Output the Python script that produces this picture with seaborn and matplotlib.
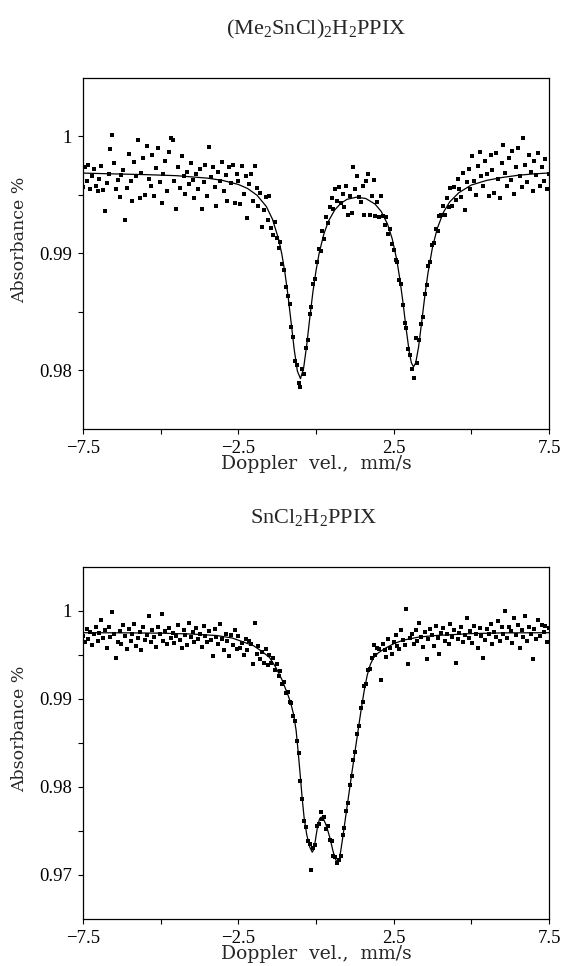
import numpy as np
import matplotlib
matplotlib.use("Agg")
import matplotlib.pyplot as plt
import seaborn as sns

# Doppler velocity of each spectrometer channel (mm/s)
n_channels = 256
velocity = np.linspace(-7.5, 7.5, n_channels)

me2sncl_absorb = [
    0.9957, 0.9974, 0.9962, 0.9976, 0.9955, 0.9966, 0.9972, 0.9958, 0.9953, 0.9964,
    0.9975, 0.9954, 0.9936, 0.9960, 0.9968, 0.9989, 1.0001, 0.9977, 0.9955, 0.9963,
    0.9948, 0.9967, 0.9971, 0.9929, 0.9956, 0.9985, 0.9962, 0.9945, 0.9978, 0.9966,
    0.9997, 0.9947, 0.9969, 0.9982, 0.9950, 0.9992, 0.9964, 0.9958, 0.9984, 0.9949,
    0.9973, 0.9990, 0.9961, 0.9943, 0.9968, 0.9979, 0.9953, 0.9987, 0.9999, 0.9997,
    0.9962, 0.9938, 0.9974, 0.9956, 0.9983, 0.9966, 0.9951, 0.9970, 0.9959, 0.9977,
    0.9963, 0.9947, 0.9968, 0.9955, 0.9972, 0.9938, 0.9961, 0.9976, 0.9949, 0.9991,
    0.9965, 0.9974, 0.9957, 0.9941, 0.9970, 0.9962, 0.9978, 0.9953, 0.9967, 0.9945,
    0.9974, 0.9960, 0.9976, 0.9943, 0.9968, 0.9962, 0.9942, 0.9975, 0.9951, 0.9966,
    0.9930, 0.9959, 0.9968, 0.9945, 0.9975, 0.9956, 0.9941, 0.9952, 0.9923, 0.9937,
    0.9948, 0.9929, 0.9949, 0.9922, 0.9916, 0.9927, 0.9913, 0.9905, 0.9910, 0.9891,
    0.9886, 0.9871, 0.9864, 0.9857, 0.9837, 0.9829, 0.9808, 0.9805, 0.9789, 0.9786,
    0.9801, 0.9797, 0.9819, 0.9826, 0.9848, 0.9854, 0.9874, 0.9878, 0.9893, 0.9904,
    0.9902, 0.9919, 0.9912, 0.9931, 0.9926, 0.9940, 0.9947, 0.9938, 0.9955, 0.9945,
    0.9957, 0.9943, 0.9951, 0.9940, 0.9958, 0.9933, 0.9949, 0.9935, 0.9974, 0.9955,
    0.9966, 0.9948, 0.9944, 0.9958, 0.9933, 0.9962, 0.9968, 0.9933, 0.9949, 0.9963,
    0.9932, 0.9944, 0.9931, 0.9949, 0.9932, 0.9924, 0.9931, 0.9917, 0.9921, 0.9908,
    0.9903, 0.9894, 0.9893, 0.9877, 0.9874, 0.9856, 0.9841, 0.9836, 0.9818, 0.9813,
    0.9801, 0.9794, 0.9828, 0.9806, 0.9826, 0.9840, 0.9846, 0.9865, 0.9873, 0.9889,
    0.9893, 0.9907, 0.9909, 0.9921, 0.9919, 0.9932, 0.9933, 0.9941, 0.9933, 0.9947,
    0.9940, 0.9956, 0.9941, 0.9957, 0.9946, 0.9964, 0.9955, 0.9948, 0.9969, 0.9937,
    0.9961, 0.9972, 0.9955, 0.9983, 0.9962, 0.9950, 0.9975, 0.9987, 0.9966, 0.9958,
    0.9979, 0.9968, 0.9949, 0.9984, 0.9971, 0.9952, 0.9986, 0.9964, 0.9947, 0.9977,
    0.9993, 0.9969, 0.9958, 0.9982, 0.9963, 0.9988, 0.9951, 0.9974, 0.9990, 0.9966,
    0.9957, 0.9999, 0.9976, 0.9961, 0.9984, 0.9970, 0.9953, 0.9979, 0.9967, 0.9986,
    0.9958, 0.9974, 0.9962, 0.9981, 0.9955, 0.9968,
]

# fitted curve, (Me2SnCl)2H2PPIX
me2sncl_fit_vel = [
    -7.5, -6.5, -5.5, -4.5, -3.5, -3.0, -2.5, -2.2, -1.9, -1.6, -1.4, -1.2, -1.1,
    -1.0, -0.9, -0.8, -0.7, -0.6, -0.5, -0.4, -0.3, -0.2, -0.1, 0.0, 0.1, 0.25,
    0.4, 0.6, 0.8, 1.0, 1.3, 1.6, 1.9, 2.1, 2.3, 2.45, 2.6, 2.7, 2.8, 2.9, 3.0,
    3.07, 3.14, 3.21, 3.3, 3.4, 3.5, 3.6, 3.75, 3.9, 4.1, 4.3, 4.6, 5.0, 5.5, 6.0,
    6.5, 7.0, 7.5,
]
me2sncl_fit_abs = [
    0.99687, 0.99680, 0.99674, 0.99665, 0.99644, 0.99624, 0.99590, 0.99555,
    0.99498, 0.99402, 0.99292, 0.99118, 0.98994, 0.98835, 0.98637, 0.98408,
    0.98176, 0.97995, 0.97930, 0.98018, 0.98215, 0.98451, 0.98671, 0.98852,
    0.99001, 0.99164, 0.99276, 0.99371, 0.99429, 0.99463, 0.99481, 0.99470,
    0.99422, 0.99359, 0.99252, 0.99128, 0.98945, 0.98779, 0.98579, 0.98360,
    0.98160, 0.98065, 0.98031, 0.98066, 0.98199, 0.98411, 0.98631, 0.98826,
    0.99054, 0.99212, 0.99351, 0.99440, 0.99520, 0.99585, 0.99625, 0.99650,
    0.99668, 0.99680, 0.99688,
]

sncl2_absorb = [
    0.9971, 0.9964, 0.9979, 0.9968, 0.9976, 0.9961, 0.9973, 0.9982, 0.9966, 0.9975,
    0.9990, 0.9969, 0.9978, 0.9958, 0.9981, 0.9970, 0.9999, 0.9973, 0.9946, 0.9965,
    0.9977, 0.9962, 0.9984, 0.9971, 0.9957, 0.9979, 0.9966, 0.9974, 0.9985, 0.9960,
    0.9969, 0.9976, 0.9955, 0.9981, 0.9967, 0.9972, 0.9994, 0.9964, 0.9978, 0.9970,
    0.9959, 0.9982, 0.9973, 0.9996, 0.9966, 0.9977, 0.9962, 0.9980, 0.9969, 0.9975,
    0.9963, 0.9971, 0.9984, 0.9967, 0.9958, 0.9978, 0.9972, 0.9961, 0.9986, 0.9970,
    0.9976, 0.9965, 0.9980, 0.9968, 0.9974, 0.9959, 0.9983, 0.9971, 0.9964, 0.9977,
    0.9967, 0.9949, 0.9979, 0.9970, 0.9962, 0.9985, 0.9968, 0.9955, 0.9974, 0.9966,
    0.9949, 0.9972, 0.9961, 0.9978, 0.9957, 0.9971, 0.9958, 0.9963, 0.9950, 0.9968,
    0.9955, 0.9966, 0.9962, 0.9939, 0.9986, 0.9951, 0.9960, 0.9945, 0.9953, 0.9941,
    0.9957, 0.9938, 0.9950, 0.9941, 0.9946, 0.9933, 0.9939, 0.9926, 0.9931, 0.9917,
    0.9919, 0.9907, 0.9908, 0.9896, 0.9895, 0.9880, 0.9875, 0.9852, 0.9838, 0.9807,
    0.9786, 0.9761, 0.9754, 0.9738, 0.9735, 0.9706, 0.9730, 0.9734, 0.9755, 0.9758,
    0.9772, 0.9763, 0.9766, 0.9752, 0.9755, 0.9740, 0.9738, 0.9722, 0.9720, 0.9713,
    0.9717, 0.9722, 0.9745, 0.9753, 0.9773, 0.9782, 0.9802, 0.9812, 0.9831, 0.9840,
    0.9860, 0.9869, 0.9889, 0.9896, 0.9914, 0.9917, 0.9933, 0.9934, 0.9946, 0.9961,
    0.9950, 0.9958, 0.9957, 0.9921, 0.9962, 0.9955, 0.9947, 0.9968, 0.9958, 0.9951,
    0.9965, 0.9972, 0.9960, 0.9956, 0.9978, 0.9967, 0.9961, 1.0002, 0.9940, 0.9969,
    0.9974, 0.9962, 0.9978, 0.9966, 0.9986, 0.9970, 0.9959, 0.9976, 0.9945, 0.9968,
    0.9979, 0.9972, 0.9960, 0.9983, 0.9969, 0.9951, 0.9975, 0.9980, 0.9966, 0.9973,
    0.9962, 0.9985, 0.9970, 0.9978, 0.9941, 0.9968, 0.9975, 0.9981, 0.9964, 0.9972,
    0.9992, 0.9969, 0.9977, 0.9963, 0.9983, 0.9974, 0.9958, 0.9980, 0.9971, 0.9946,
    0.9967, 0.9979, 0.9973, 0.9985, 0.9962, 0.9976, 0.9970, 0.9988, 0.9966, 0.9981,
    0.9974, 1.0000, 0.9969, 0.9982, 0.9977, 0.9963, 0.9992, 0.9972, 0.9984, 0.9958,
    0.9978, 0.9970, 0.9994, 0.9966, 0.9981, 0.9973, 0.9945, 0.9979, 0.9968, 0.9990,
    0.9971, 0.9984, 0.9976, 0.9983, 0.9964, 0.9980,
]

# fitted curve, SnCl2H2PPIX
sncl2_fit_vel = [
    -7.5, -6.0, -5.0, -4.0, -3.2, -2.7, -2.3, -2.0, -1.75, -1.5, -1.3, -1.1, -1.0,
    -0.9, -0.82, -0.72, -0.64, -0.57, -0.5, -0.44, -0.38, -0.3, -0.2, -0.12, -0.06,
    0.0, 0.06, 0.12, 0.17, 0.24, 0.31, 0.4, 0.47, 0.54, 0.61, 0.67, 0.71, 0.75,
    0.8, 0.85, 0.95, 1.05, 1.15, 1.25, 1.35, 1.45, 1.55, 1.65, 1.75, 1.85, 2.0,
    2.2, 2.5, 2.8, 3.3, 3.8, 5.0, 6.0, 7.5,
]
sncl2_fit_abs = [
    0.99750, 0.99748, 0.99745, 0.99735, 0.99718, 0.99690, 0.99640, 0.99600,
    0.99540, 0.99470, 0.99360, 0.99220, 0.99130, 0.99040, 0.98960, 0.98820,
    0.98640, 0.98380, 0.98100, 0.97850, 0.97640, 0.97460, 0.97315, 0.97258,
    0.97300, 0.97440, 0.97570, 0.97640, 0.97657, 0.97635, 0.97580, 0.97480,
    0.97390, 0.97280, 0.97190, 0.97150, 0.97144, 0.97180, 0.97280, 0.97400,
    0.97650, 0.97900, 0.98150, 0.98390, 0.98630, 0.98870, 0.99090, 0.99270,
    0.99390, 0.99465, 0.99520, 0.99568, 0.99625, 0.99665, 0.99700, 0.99717,
    0.99740, 0.99748, 0.99750,
]

x_ticks = [-7.5, -5, -2.5, 0, 2.5, 5, 7.5]
x_tick_labels = ["\u22127.5", "", "\u22122.5", "", "2.5", "", "7.5"]

top_yticks = [0.98, 0.985, 0.99, 0.995, 1.0]
top_ylabels = ["0.98", "", "0.99", "", "1"]
bottom_yticks = [0.97, 0.975, 0.98, 0.985, 0.99, 0.995, 1.0]
bottom_ylabels = ["0.97", "", "0.98", "", "0.99", "", "1"]

sns.set_style("ticks")
plt.rcParams["font.family"] = ["Liberation Serif", "DejaVu Serif"]
plt.rcParams["mathtext.fontset"] = "custom"
plt.rcParams["mathtext.rm"] = "Liberation Serif"
plt.rcParams["mathtext.it"] = "Liberation Serif:italic"

fig = plt.figure(figsize=(5.62, 9.66), dpi=100)
ax_top = fig.add_axes([0.1477, 0.5559, 0.8292, 0.3634])
ax_bot = fig.add_axes([0.1477, 0.0487, 0.8292, 0.3647])


def plot_spectrum(ax, absorb, fit_vel, fit_abs, ylim, yticks, ylabels):
    sns.lineplot(x=fit_vel, y=fit_abs, sort=False, estimator=None,
                 color="black", linewidth=0.9, ax=ax)
    sns.scatterplot(x=velocity, y=absorb, marker="s", s=9, color="black",
                    linewidth=0, ax=ax)

    ax.set_xlim(-7.5, 7.5)
    ax.set_ylim(*ylim)
    ax.set_xticks(x_ticks)
    ax.set_xticklabels(x_tick_labels)
    ax.set_yticks(yticks)
    ax.set_yticklabels(ylabels)
    ax.tick_params(direction="out", length=3.5, width=0.8, pad=4.5,
                   labelsize=13.5, colors="black")
    for side in ["top", "right", "bottom", "left"]:
        ax.spines[side].set_visible(True)
        ax.spines[side].set_linewidth(0.9)
        ax.spines[side].set_color("black")

    ax.set_xlabel("Doppler  vel.,  mm/s", family="DejaVu Serif", fontsize=13.5)
    ax.set_ylabel("Absorbance %", family="DejaVu Serif", fontsize=12.5)
    ax.xaxis.set_label_coords(0.5, -0.075)
    ax.yaxis.set_label_coords(-0.118, 0.54)


plot_spectrum(ax_top, me2sncl_absorb, me2sncl_fit_vel, me2sncl_fit_abs,
              (0.975, 1.005), top_yticks, top_ylabels)
plot_spectrum(ax_bot, sncl2_absorb, sncl2_fit_vel, sncl2_fit_abs,
              (0.965, 1.005), bottom_yticks, bottom_ylabels)

fig.text(0.562, 0.969, r"$\mathrm{(Me_2SnCl)_2H_2PPIX}$", ha="center",
         va="center", fontsize=16)
fig.text(0.558, 0.464, r"$\mathrm{SnCl_2H_2PPIX}$", ha="center",
         va="center", fontsize=16)

fig.savefig("out.png", dpi=100)
